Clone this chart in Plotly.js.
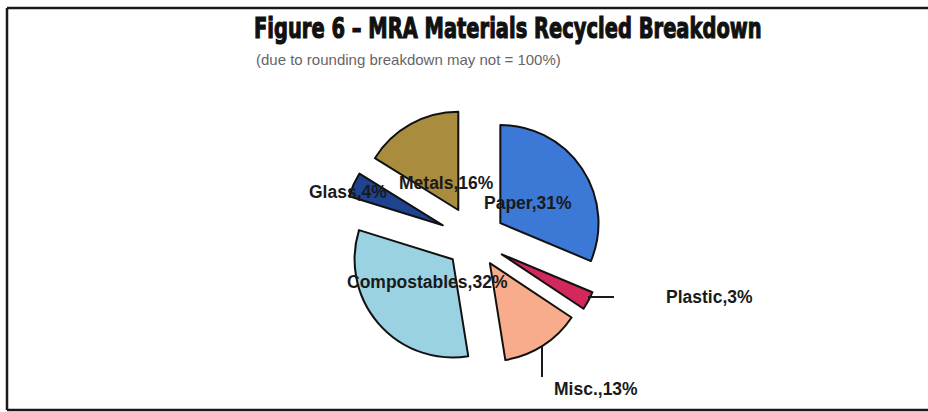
<!DOCTYPE html>
<html>
<head>
<meta charset="utf-8">
<script src="https://cdn.plot.ly/plotly-3.0.1.min.js"></script>
<style>
  html, body { margin: 0; padding: 0; background: #ffffff; }
  #chart { width: 928px; height: 412px; }
</style>
</head>
<body>
<div id="chart"></div>
<script>
// ---- Data ----
const categories = ["Paper", "Plastic", "Misc.", "Compostables", "Glass", "Metals"];
const percentValues = [31, 3, 13, 32, 4, 16];
const sliceColors = ["#3c78d6", "#d2285c", "#f9ac8c", "#9ad2e2", "#1f438f", "#a98c3e"];
const pullAmounts = [0.31, 0.31, 0.28, 0.30, 0.36, 0.35];

const titleText = "Figure 6 – MRA Materials Recycled Breakdown";
const subtitleText = "(due to rounding breakdown may not = 100%)";

// ---- Layout helpers (pixel -> paper) ----
const W = 928, H = 412;
const px = x => x / W;
const py = y => 1 - y / H;

// label anchor positions (left edge, vertical middle) in pixels
const labelPos = [
  [482, 203],  // Paper
  [664, 297],  // Plastic
  [552, 389],  // Misc.
  [345, 282],  // Compostables
  [307, 192],  // Glass
  [397, 183]   // Metals
];

const cx = 475, cy = 240, halfBox = 133.5;
const titleLeft = 254, titleWidth = 508;

const trace = {
  type: "pie",
  labels: categories,
  values: percentValues,
  sort: false,
  direction: "clockwise",
  rotation: 0,
  pull: pullAmounts,
  textinfo: "none",
  marker: { colors: sliceColors, line: { color: "#111111", width: 2 } },
  domain: { x: [px(cx - halfBox), px(cx + halfBox)], y: [py(cy + halfBox), py(cy - halfBox)] },
  showlegend: false,
  hoverinfo: "label+percent"
};

const labelFont = { family: "Liberation Sans, Arial, sans-serif", size: 17.5, color: "#1a1a1a" };

const annotations = categories.map((c, i) => ({
  xref: "paper", yref: "paper",
  x: px(labelPos[i][0]), y: py(labelPos[i][1]),
  xanchor: "left", yanchor: "middle",
  text: "<b>" + c + "," + percentValues[i] + "%</b>",
  showarrow: false,
  font: labelFont
}));

annotations.push({
  xref: "paper", yref: "paper",
  x: px(titleLeft + titleWidth / 2), y: py(29), xanchor: "center", yanchor: "middle",
  text: "<b>" + titleText + "</b>", showarrow: false,
  font: { family: "DejaVu Sans, sans-serif", size: 28, color: "#111111" }
});
annotations.push({
  xref: "paper", yref: "paper",
  x: px(254), y: py(59), xanchor: "left", yanchor: "middle",
  text: subtitleText, showarrow: false,
  font: { family: "Liberation Sans, Arial, sans-serif", size: 15, color: "#666666" }
});

const frameColor = "#1a1a1a";
const shapes = [
  { type: "line", xref: "paper", yref: "paper", x0: px(7), x1: 1, y0: py(8), y1: py(8),
    line: { color: frameColor, width: 2.5 } },
  { type: "line", xref: "paper", yref: "paper", x0: px(7), x1: 1, y0: py(410), y1: py(410),
    line: { color: frameColor, width: 2.5 } },
  { type: "line", xref: "paper", yref: "paper", x0: px(7), x1: px(7), y0: py(8), y1: py(410),
    line: { color: frameColor, width: 2.5 } },
  { type: "line", xref: "paper", yref: "paper", x0: px(588), x1: px(614), y0: py(297), y1: py(297),
    line: { color: frameColor, width: 2 } },
  { type: "line", xref: "paper", yref: "paper", x0: px(542), x1: px(542), y0: py(347), y1: py(377),
    line: { color: frameColor, width: 2 } }
];

const layout = {
  width: W, height: H,
  margin: { l: 0, r: 0, t: 0, b: 0 },
  paper_bgcolor: "#ffffff",
  plot_bgcolor: "#ffffff",
  annotations: annotations,
  shapes: shapes,
  showlegend: false
};

Plotly.newPlot("chart", [trace], layout, { staticPlot: true, displayModeBar: false }).then(gd => {
  // compress the heavy title horizontally to mimic the condensed display face
  const anns = gd.querySelectorAll("g.annotation");
  const titleAnn = anns[categories.length];
  if (titleAnn) {
    const t = titleAnn.querySelector("text.annotation-text");
    if (t) {
      const bb = t.getBBox();
      const s = titleWidth / bb.width;
      const c = bb.x + bb.width / 2;
      t.setAttribute("transform", `translate(${c},0) scale(${s},1) translate(${-c},0)`);
      t.style.stroke = "#111111";
      t.style.strokeWidth = "1.2px";
      t.style.paintOrder = "stroke";
    }
  }
});
</script>
</body>
</html>
